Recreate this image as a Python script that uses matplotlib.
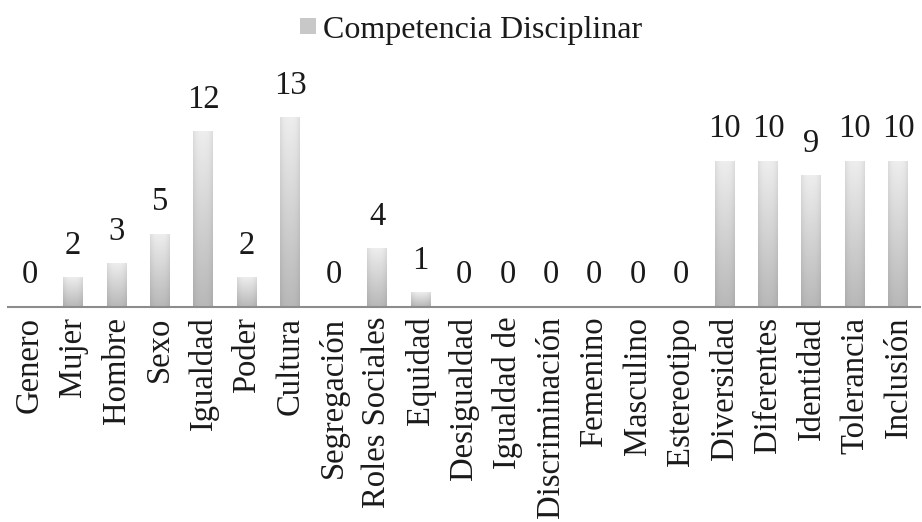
import numpy as np
import matplotlib
matplotlib.use("Agg")
import matplotlib.pyplot as plt
from matplotlib.patches import Patch

categorias = ["Genero", "Mujer", "Hombre", "Sexo", "Igualdad", "Poder", "Cultura",
              "Segregación", "Roles Sociales", "Equidad", "Desigualdad", "Igualdad de",
              "Discriminación", "Femenino", "Masculino", "Estereotipo", "Diversidad",
              "Diferentes", "Identidad", "Tolerancia", "Inclusión"]
valores = [0, 2, 3, 5, 12, 2, 13, 0, 4, 1, 0, 0, 0, 0, 0, 0, 10, 10, 9, 10, 10]
serie = "Competencia Disciplinar"

plt.rcParams["font.family"] = ["Liberation Serif", "DejaVu Serif"]

fig = plt.figure(figsize=(9.22, 5.22), dpi=100)
ax = fig.add_axes([8 / 922, (522 - 307) / 522, 912 / 922, 247 / 522])

# degradado: claro arriba, oscuro abajo, bordes algo mas oscuros
vert = np.linspace(0.93, 0.72, 100)[:, None]
horiz = 1 - 0.07 * np.abs(np.linspace(-1, 1, 30))[None, :] ** 3
grad = vert * horiz

ancho = 0.46
x = np.arange(len(categorias))
bars = ax.bar(x, valores, width=ancho, color="none", edgecolor="none")
for b, v in zip(bars, valores):
    if v > 0:
        ax.imshow(grad, cmap="gray", vmin=0, vmax=1, aspect="auto",
                  extent=(b.get_x(), b.get_x() + ancho, 0, v), zorder=2,
                  interpolation="bilinear")
    ax.annotate(str(v), (b.get_x() + ancho / 2, v), xytext=(0, 12),
                textcoords="offset points", ha="center", va="bottom",
                fontsize=23.5, color="#1a1a1a")

ax.set_xlim(-0.5, len(categorias) - 0.5)
ax.set_ylim(0, 247 / 14.6)
ax.set_xticks(x)
ax.set_xticklabels(categorias, rotation=90, fontsize=23.5, color="#1a1a1a")
ax.tick_params(axis="x", length=0, pad=7)
ax.set_yticks([])
for s in ["top", "right", "left"]:
    ax.spines[s].set_visible(False)
ax.spines["bottom"].set_color("#8c8c8c")
ax.spines["bottom"].set_linewidth(1.5)

fig.legend(handles=[Patch(facecolor="#c8c8c8", edgecolor="none", label=serie)],
           loc="upper center", bbox_to_anchor=(0.511, 1.025), frameon=False,
           fontsize=23, handlelength=0.5, handleheight=0.4, handletextpad=0.22,
           labelcolor="#1a1a1a")

fig.savefig("out.png", dpi=100)
